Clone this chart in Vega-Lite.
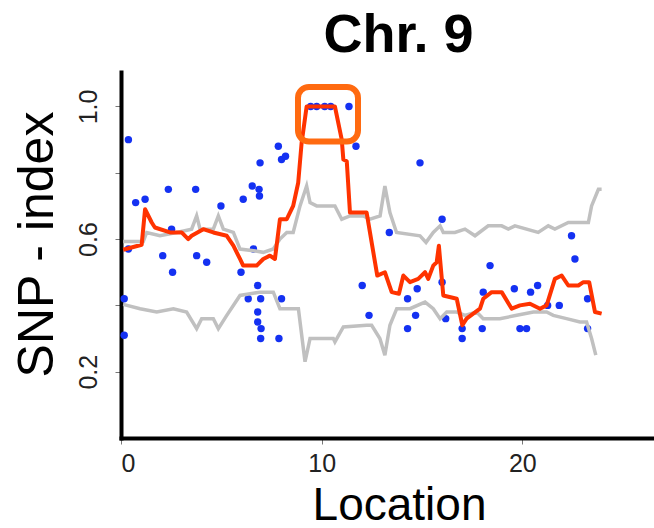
{
  "$schema": "https://vega.github.io/schema/vega-lite/v6.json",
  "width": 533,
  "height": 366,
  "autosize": {"type": "none"},
  "padding": {"left": 121, "top": 72, "right": 0, "bottom": 90},
  "background": "white",
  "config": {
    "view": {"stroke": null},
    "axis": {
      "grid": false,
      "domainColor": "black",
      "domainWidth": 4,
      "domainCap": "square",
      "tickColor": "#777777",
      "tickWidth": 1,
      "tickSize": 6,
      "labelFont": "Liberation Sans",
      "labelFontSize": 25,
      "labelColor": "#222222",
      "titleFont": "Liberation Sans",
      "titleFontWeight": "normal",
      "titleColor": "black"
    }
  },
  "title": {
    "text": "Chr. 9",
    "font": "Liberation Sans",
    "fontSize": 54,
    "fontWeight": "bold",
    "color": "black",
    "anchor": "middle",
    "frame": "group",
    "dx": 11,
    "dy": 49,
    "baseline": "alphabetic",
    "offset": 15
  },
  "datasets": {
    "pts": [
      {"x": 0.37, "y": 0.90}, {"x": 0.73, "y": 0.71}, {"x": 1.2, "y": 0.72}, {"x": 2.36, "y": 0.75},
      {"x": 3.72, "y": 0.75}, {"x": 4.98, "y": 0.70}, {"x": 6.09, "y": 0.72}, {"x": 6.54, "y": 0.76},
      {"x": 6.88, "y": 0.75}, {"x": 6.9, "y": 0.73}, {"x": 6.93, "y": 0.83}, {"x": 7.84, "y": 0.88},
      {"x": 8.0, "y": 0.84}, {"x": 8.2, "y": 0.85}, {"x": 2.52, "y": 0.63},
      {"x": 0.37, "y": 0.57}, {"x": 2.08, "y": 0.55}, {"x": 2.57, "y": 0.50}, {"x": 3.77, "y": 0.55},
      {"x": 4.27, "y": 0.53}, {"x": 5.98, "y": 0.50}, {"x": 6.81, "y": 0.46}, {"x": 6.34, "y": 0.42},
      {"x": 6.96, "y": 0.42}, {"x": 8.0, "y": 0.42}, {"x": 6.81, "y": 0.38}, {"x": 6.81, "y": 0.35},
      {"x": 6.98, "y": 0.33}, {"x": 6.96, "y": 0.30}, {"x": 7.87, "y": 0.30}, {"x": 0.16, "y": 0.42},
      {"x": 0.16, "y": 0.31}, {"x": 6.6, "y": 0.57},
      {"x": 9.45, "y": 1.0}, {"x": 9.75, "y": 1.0}, {"x": 10.15, "y": 1.0}, {"x": 10.45, "y": 1.0},
      {"x": 11.36, "y": 1.0}, {"x": 11.71, "y": 0.88}, {"x": 14.9, "y": 0.83}, {"x": 16.0, "y": 0.66},
      {"x": 13.37, "y": 0.62},
      {"x": 12.02, "y": 0.46}, {"x": 12.36, "y": 0.37}, {"x": 14.76, "y": 0.45}, {"x": 14.28, "y": 0.42},
      {"x": 14.68, "y": 0.37}, {"x": 14.28, "y": 0.33}, {"x": 16.0, "y": 0.47}, {"x": 16.18, "y": 0.36},
      {"x": 17.0, "y": 0.33}, {"x": 17.0, "y": 0.30}, {"x": 18.05, "y": 0.44}, {"x": 18.39, "y": 0.52},
      {"x": 18.0, "y": 0.33}, {"x": 19.6, "y": 0.45}, {"x": 19.88, "y": 0.33}, {"x": 20.21, "y": 0.33},
      {"x": 20.41, "y": 0.44}, {"x": 20.76, "y": 0.46}, {"x": 21.26, "y": 0.40}, {"x": 21.84, "y": 0.40},
      {"x": 22.45, "y": 0.61}, {"x": 22.62, "y": 0.54}, {"x": 23.25, "y": 0.42}, {"x": 23.25, "y": 0.33}
    ],
    "red": [
      {"x": 0.11, "y": 0.568}, {"x": 1.03, "y": 0.583}, {"x": 1.2, "y": 0.69}, {"x": 1.53, "y": 0.65},
      {"x": 1.69, "y": 0.635}, {"x": 2.44, "y": 0.62}, {"x": 3.02, "y": 0.62}, {"x": 3.35, "y": 0.60},
      {"x": 3.52, "y": 0.61}, {"x": 4.10, "y": 0.63}, {"x": 4.60, "y": 0.62}, {"x": 5.27, "y": 0.61},
      {"x": 5.60, "y": 0.58}, {"x": 5.93, "y": 0.54}, {"x": 6.09, "y": 0.52}, {"x": 6.76, "y": 0.52},
      {"x": 7.09, "y": 0.54}, {"x": 7.42, "y": 0.55}, {"x": 7.67, "y": 0.54}, {"x": 7.92, "y": 0.66},
      {"x": 8.26, "y": 0.66}, {"x": 8.58, "y": 0.70}, {"x": 8.83, "y": 0.77}, {"x": 9.0, "y": 0.89},
      {"x": 9.25, "y": 1.0}, {"x": 10.66, "y": 1.0}, {"x": 11.0, "y": 0.90}, {"x": 11.08, "y": 0.84},
      {"x": 11.25, "y": 0.835}, {"x": 11.41, "y": 0.68}, {"x": 12.24, "y": 0.68}, {"x": 12.49, "y": 0.59},
      {"x": 12.77, "y": 0.49}, {"x": 13.15, "y": 0.50}, {"x": 13.49, "y": 0.44}, {"x": 13.85, "y": 0.435},
      {"x": 14.07, "y": 0.49}, {"x": 14.40, "y": 0.47}, {"x": 14.81, "y": 0.48}, {"x": 15.15, "y": 0.50},
      {"x": 15.31, "y": 0.48}, {"x": 15.56, "y": 0.52}, {"x": 15.73, "y": 0.53}, {"x": 15.84, "y": 0.58},
      {"x": 16.06, "y": 0.43}, {"x": 16.73, "y": 0.42}, {"x": 17.01, "y": 0.34}, {"x": 17.22, "y": 0.36},
      {"x": 17.89, "y": 0.39}, {"x": 18.05, "y": 0.42}, {"x": 18.47, "y": 0.44}, {"x": 18.97, "y": 0.44},
      {"x": 19.47, "y": 0.39}, {"x": 19.88, "y": 0.40}, {"x": 20.38, "y": 0.405}, {"x": 20.88, "y": 0.39},
      {"x": 21.21, "y": 0.40}, {"x": 21.62, "y": 0.48}, {"x": 21.96, "y": 0.49}, {"x": 22.29, "y": 0.46},
      {"x": 22.79, "y": 0.46}, {"x": 23.04, "y": 0.47}, {"x": 23.33, "y": 0.47}, {"x": 23.62, "y": 0.38},
      {"x": 23.95, "y": 0.375}
    ],
    "upper": [
      {"x": 0.11, "y": 0.593}, {"x": 1.11, "y": 0.593}, {"x": 1.28, "y": 0.62}, {"x": 1.94, "y": 0.61},
      {"x": 2.77, "y": 0.62}, {"x": 3.52, "y": 0.63}, {"x": 3.77, "y": 0.67}, {"x": 3.94, "y": 0.63},
      {"x": 4.60, "y": 0.63}, {"x": 4.85, "y": 0.67}, {"x": 5.10, "y": 0.63}, {"x": 5.60, "y": 0.62},
      {"x": 5.93, "y": 0.57}, {"x": 6.60, "y": 0.565}, {"x": 7.09, "y": 0.56}, {"x": 7.59, "y": 0.57},
      {"x": 7.92, "y": 0.60}, {"x": 8.26, "y": 0.62}, {"x": 8.58, "y": 0.62}, {"x": 8.92, "y": 0.70},
      {"x": 9.25, "y": 0.76}, {"x": 9.42, "y": 0.71}, {"x": 9.75, "y": 0.70}, {"x": 10.5, "y": 0.70},
      {"x": 10.66, "y": 0.70}, {"x": 11.0, "y": 0.66}, {"x": 11.41, "y": 0.67}, {"x": 12.07, "y": 0.67},
      {"x": 12.41, "y": 0.66}, {"x": 12.91, "y": 0.67}, {"x": 13.15, "y": 0.76}, {"x": 13.40, "y": 0.68},
      {"x": 13.73, "y": 0.62}, {"x": 14.9, "y": 0.61}, {"x": 15.2, "y": 0.59}, {"x": 15.56, "y": 0.62},
      {"x": 15.90, "y": 0.64}, {"x": 16.06, "y": 0.62}, {"x": 16.64, "y": 0.62}, {"x": 17.14, "y": 0.63},
      {"x": 17.64, "y": 0.61}, {"x": 18.30, "y": 0.64}, {"x": 18.97, "y": 0.64}, {"x": 19.30, "y": 0.63},
      {"x": 19.63, "y": 0.64}, {"x": 20.79, "y": 0.62}, {"x": 21.29, "y": 0.64}, {"x": 21.62, "y": 0.63},
      {"x": 22.29, "y": 0.65}, {"x": 23.29, "y": 0.65}, {"x": 23.45, "y": 0.70}, {"x": 23.79, "y": 0.75},
      {"x": 23.95, "y": 0.75}
    ],
    "lower": [
      {"x": 0.11, "y": 0.403}, {"x": 0.95, "y": 0.39}, {"x": 1.78, "y": 0.38}, {"x": 2.61, "y": 0.39},
      {"x": 3.27, "y": 0.38}, {"x": 3.77, "y": 0.33}, {"x": 4.02, "y": 0.36}, {"x": 4.60, "y": 0.36},
      {"x": 4.85, "y": 0.33}, {"x": 5.27, "y": 0.37}, {"x": 5.93, "y": 0.43}, {"x": 6.93, "y": 0.44},
      {"x": 7.59, "y": 0.44}, {"x": 7.92, "y": 0.39}, {"x": 8.84, "y": 0.39}, {"x": 9.17, "y": 0.23},
      {"x": 9.42, "y": 0.30}, {"x": 10.58, "y": 0.30}, {"x": 10.66, "y": 0.29}, {"x": 11.08, "y": 0.335},
      {"x": 12.24, "y": 0.34}, {"x": 12.49, "y": 0.34}, {"x": 12.90, "y": 0.30}, {"x": 13.15, "y": 0.25},
      {"x": 13.40, "y": 0.34}, {"x": 13.74, "y": 0.39}, {"x": 14.40, "y": 0.39}, {"x": 15.15, "y": 0.41},
      {"x": 15.56, "y": 0.39}, {"x": 15.90, "y": 0.36}, {"x": 16.23, "y": 0.38}, {"x": 16.73, "y": 0.38},
      {"x": 17.14, "y": 0.37}, {"x": 17.72, "y": 0.38}, {"x": 18.05, "y": 0.36}, {"x": 18.88, "y": 0.36},
      {"x": 19.72, "y": 0.37}, {"x": 20.55, "y": 0.38}, {"x": 21.21, "y": 0.38}, {"x": 21.54, "y": 0.37},
      {"x": 22.20, "y": 0.36}, {"x": 22.87, "y": 0.35}, {"x": 23.20, "y": 0.35}, {"x": 23.45, "y": 0.30},
      {"x": 23.66, "y": 0.25}
    ],
    "box": [{"x1": 8.82, "x2": 11.81, "y1": 0.894, "y2": 1.059}]
  },
  "layer": [
    {
      "data": {"name": "pts"},
      "mark": {"type": "circle", "color": "#1431F2", "size": 55, "opacity": 1},
      "encoding": {
        "x": {
          "field": "x", "type": "quantitative",
          "scale": {"domain": [0, 26.56], "nice": false, "zero": false},
          "axis": {
            "values": [0, 10, 20],
            "title": "Location",
            "titleFontSize": 46,
            "titleX": 278,
            "titleY": 81,
            "titleBaseline": "alphabetic",
            "titleAlign": "center",
            "labelPadding": 7
          }
        },
        "y": {
          "field": "y", "type": "quantitative",
          "scale": {"domain": [0, 1.104], "nice": false, "zero": false},
          "axis": {
            "values": [0.2, 0.4, 0.6, 0.8, 1.0],
            "format": ".1f",
            "labelExpr": "(abs(datum.value - 0.2) < 0.01 || abs(datum.value - 0.6) < 0.01 || abs(datum.value - 1) < 0.01) ? datum.label : ''",
            "labelAngle": -90,
            "labelAlign": "center",
            "labelBaseline": "bottom",
            "labelPadding": 14,
            "title": "SNP - index",
            "titleFontSize": 50,
            "titleAngle": -90,
            "titleX": -69,
            "titleY": 172,
            "titleAlign": "center",
            "titleBaseline": "alphabetic"
          }
        }
      }
    },
    {
      "data": {"name": "upper"},
      "mark": {"type": "line", "color": "#C0C0C0", "strokeWidth": 3.5},
      "encoding": {
        "x": {"field": "x", "type": "quantitative"},
        "y": {"field": "y", "type": "quantitative"}
      }
    },
    {
      "data": {"name": "lower"},
      "mark": {"type": "line", "color": "#C0C0C0", "strokeWidth": 3.5},
      "encoding": {
        "x": {"field": "x", "type": "quantitative"},
        "y": {"field": "y", "type": "quantitative"}
      }
    },
    {
      "data": {"name": "red"},
      "mark": {"type": "line", "color": "#FF3300", "strokeWidth": 4, "strokeJoin": "round"},
      "encoding": {
        "x": {"field": "x", "type": "quantitative"},
        "y": {"field": "y", "type": "quantitative"}
      }
    },
    {
      "data": {"name": "box"},
      "mark": {"type": "rect", "fill": null, "fillOpacity": 0, "stroke": "#FF6A10", "strokeWidth": 6, "cornerRadius": 11},
      "encoding": {
        "x": {"field": "x1", "type": "quantitative"},
        "x2": {"field": "x2"},
        "y": {"field": "y1", "type": "quantitative"},
        "y2": {"field": "y2"}
      }
    }
  ]
}
